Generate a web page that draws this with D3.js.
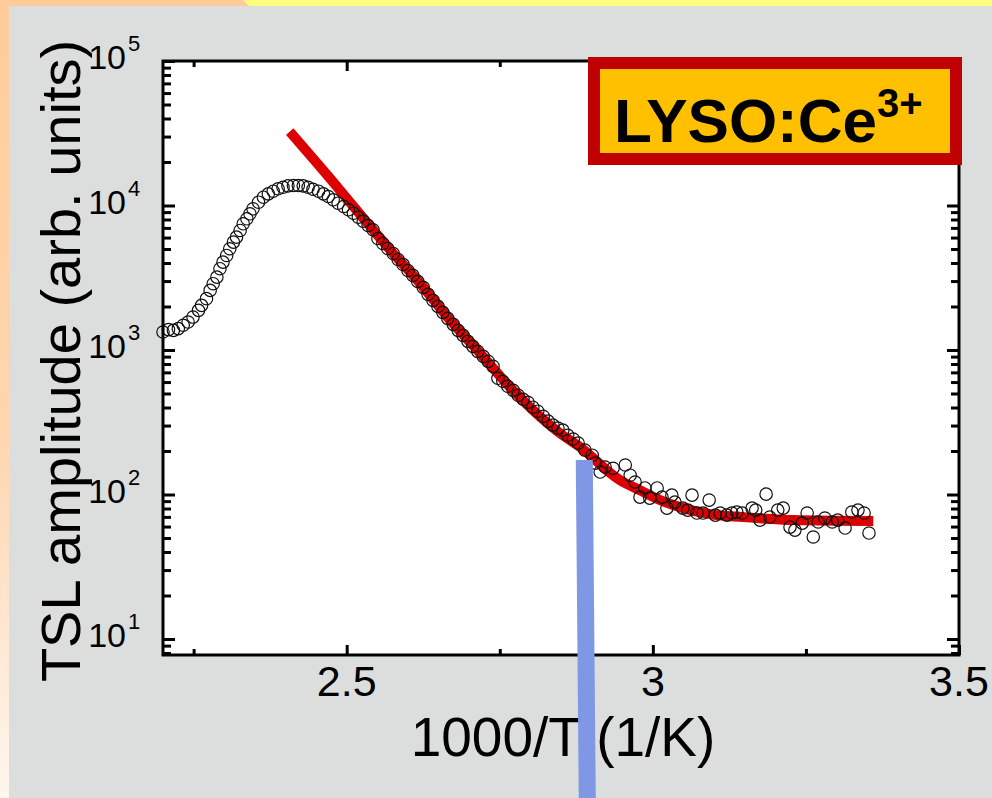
<!DOCTYPE html>
<html>
<head>
<meta charset="utf-8">
<script src="https://cdn.jsdelivr.net/npm/d3@7"></script>
<style>
  html, body { margin: 0; padding: 0; background: #dcdedd; }
  svg { display: block; font-family: "Liberation Sans", Arial, sans-serif; }
</style>
</head>
<body>
<svg id="chart" width="992" height="798"></svg>
<script>
// measured TSL points (1000/T, amplitude)
const invT = [
  2.200, 2.209, 2.217, 2.225, 2.233, 2.241, 2.249, 2.258, 2.263, 2.271, 2.277, 2.282, 2.288, 2.293, 2.298, 2.304,
  2.309, 2.315, 2.320, 2.326, 2.331, 2.337, 2.342, 2.347, 2.356, 2.364, 2.372, 2.380, 2.388, 2.396, 2.404, 2.413,
  2.421, 2.429, 2.437, 2.445, 2.454, 2.462, 2.470, 2.478, 2.486, 2.495, 2.503, 2.511, 2.519, 2.527, 2.535, 2.543,
  2.551, 2.559, 2.567, 2.576, 2.584, 2.592, 2.600, 2.608, 2.616, 2.625, 2.633, 2.641, 2.649, 2.657, 2.665, 2.674,
  2.682, 2.690, 2.698, 2.706, 2.714, 2.723, 2.731, 2.739, 2.747, 2.755, 2.763, 2.772, 2.780, 2.788, 2.796, 2.804,
  2.812, 2.821, 2.829, 2.837, 2.845, 2.853, 2.861, 2.870, 2.878,
  2.889, 2.901, 2.906, 2.914, 2.922, 2.935, 2.955, 2.963, 2.971, 2.979, 2.987, 2.995, 3.007, 3.015, 3.023, 3.031,
  3.036, 3.049, 3.057, 3.064, 3.072, 3.082, 3.092, 3.102, 3.110, 3.121, 3.129, 3.137, 3.146, 3.162, 3.168, 3.175,
  3.185, 3.191, 3.204, 3.213, 3.224, 3.232, 3.244, 3.252, 3.262, 3.270, 3.281, 3.293, 3.302, 3.314, 3.325, 3.335,
  3.345, 3.353
];
const amplitude = [
  1331, 1384, 1368, 1406, 1483, 1561, 1690, 1881, 2037, 2266, 2585, 2876, 3195, 3652, 4057, 4512,
  5020, 5577, 6040, 6718, 7471, 8093, 8762, 9490, 10540, 11410, 12040, 12560, 13050, 13380, 13680, 13750,
  13750, 13680, 13380, 12960, 12560, 12040, 11540, 10950, 10370, 9840, 9340, 8845, 8300, 7790, 7273, 6792,
  5913, 5461, 5044, 4658, 4234, 3910, 3553, 3283, 2984, 2712, 2426, 2205, 2004, 1822, 1656, 1505,
  1368, 1263, 1148, 1060, 979, 904, 835, 771, 637, 608, 561, 526, 486, 456, 435, 402,
  377, 348, 322, 302, 288, 279, 257, 242, 227,
  203, 187, 165, 143, 155, 152, 160, 136, 122, 95.9, 111, 94.4, 111, 95.9, 80.5, 99.0,
  88.6, 80.5, 78.0, 99.0, 74.4, 74.4, 91.5, 72.0, 74.4, 72.0, 74.4, 75.6, 74.4, 80.5, 78.0, 66.5,
  100.6, 69.8, 78.0, 80.5, 59.5, 56.7, 63.4, 74.4, 50.8, 64.5, 68.7, 64.5, 66.5, 58.6, 75.6, 78.0,
  74.4, 54.1
];

// fitted curve
const fitInvT = [2.407, 2.473, 2.522, 2.576, 2.620, 2.669, 2.718, 2.767, 2.816, 2.848, 2.881, 2.946, 2.979, 3.012, 3.044, 3.093, 3.147, 3.229, 3.360];
const fitAmp = [32460, 15370, 8666, 4658, 2890, 1604, 949, 552, 345, 266, 213, 126, 107, 91.5, 81.8, 73.2, 69.8, 66.5, 65.5];

// vertical marker
const markerInvT = 2.888;
const markerAmp = 173;

const xMajor = [2.5, 3, 3.5];
const xMinor = [2.25, 2.75, 3.25];
const xTickLabels = ['2.5', '3', '3.5'];
const yExponents = [1, 2, 3, 4, 5];
const xTitle = '1000/T (1/K)';
const yTitle = 'TSL amplitude (arb. units)';
const sampleName = 'LYSO:Ce';
const sampleCharge = '3+';

const W = 992, H = 798;
const plot = { left: 163, right: 959, top: 61, bottom: 655 };

const svg = d3.select('#chart');

// slide background
svg.append('rect').attr('width', W).attr('height', H).attr('fill', '#dcdedd');
const defs = svg.append('defs');
const grad = defs.append('linearGradient').attr('id', 'edge').attr('x1', 0).attr('y1', 0).attr('x2', 0).attr('y2', 1);
grad.append('stop').attr('offset', 0).attr('stop-color', '#ffcc99');
grad.append('stop').attr('offset', 0.55).attr('stop-color', '#ffd6b0');
grad.append('stop').attr('offset', 1).attr('stop-color', '#fff6ee');
svg.append('rect').attr('x', 0).attr('y', 0).attr('width', 9).attr('height', H).attr('fill', 'url(#edge)');
svg.append('rect').attr('x', 0).attr('y', 0).attr('width', W).attr('height', 6).attr('fill', '#ffff80');
svg.append('path').attr('d', 'M0,0L243,0L249,6L0,6Z').attr('fill', '#ffcc99');

const x = d3.scaleLinear().domain([2.2, 3.5]).range([plot.left, plot.right]);
const y = d3.scaleLog().domain([7.75, 1e5]).range([plot.bottom, plot.top]);

svg.append('rect')
  .attr('x', plot.left).attr('y', plot.top)
  .attr('width', plot.right - plot.left).attr('height', plot.bottom - plot.top)
  .attr('fill', '#fff');

// ticks pointing inward on all four sides
const yMajor = yExponents.map(e => Math.pow(10, e));
const yMinor = y.ticks().filter(v => !yMajor.some(m => Math.abs(m - v) < 1e-9));
function ticks (axis, pos) {
  const g = svg.append('g').attr('transform', pos).call(axis.tickSizeOuter(0).tickFormat(''));
  g.select('.domain').remove();
  g.selectAll('line').attr('stroke', '#000').attr('stroke-width', 3);
}
ticks(d3.axisBottom(x).tickValues(xMajor).tickSize(-10), `translate(0,${plot.bottom})`);
ticks(d3.axisBottom(x).tickValues(xMinor).tickSize(-6), `translate(0,${plot.bottom})`);
ticks(d3.axisTop(x).tickValues(xMajor).tickSize(-10), `translate(0,${plot.top})`);
ticks(d3.axisTop(x).tickValues(xMinor).tickSize(-6), `translate(0,${plot.top})`);
ticks(d3.axisLeft(y).tickValues(yMajor).tickSize(-12), `translate(${plot.left},0)`);
ticks(d3.axisLeft(y).tickValues(yMinor).tickSize(-8), `translate(${plot.left},0)`);
ticks(d3.axisRight(y).tickValues(yMajor).tickSize(-12), `translate(${plot.right},0)`);
ticks(d3.axisRight(y).tickValues(yMinor).tickSize(-8), `translate(${plot.right},0)`);

// fit line
const line = d3.line().x(d => x(d[0])).y(d => y(d[1])).curve(d3.curveMonotoneX);
svg.append('path')
  .datum(fitInvT.map((v, i) => [v, fitAmp[i]]))
  .attr('d', line)
  .attr('fill', 'none')
  .attr('stroke', '#dc0000')
  .attr('stroke-width', 10)
  .attr('stroke-linecap', 'butt');

// data circles
svg.append('g').selectAll('circle')
  .data(invT.map((v, i) => [v, amplitude[i]]))
  .join('circle')
  .attr('cx', d => x(d[0]))
  .attr('cy', d => y(d[1]))
  .attr('r', 6.2)
  .attr('fill', 'none')
  .attr('stroke', '#111')
  .attr('stroke-width', 1.2);

// frame
svg.append('rect')
  .attr('x', plot.left).attr('y', plot.top)
  .attr('width', plot.right - plot.left).attr('height', plot.bottom - plot.top)
  .attr('fill', 'none').attr('stroke', '#000').attr('stroke-width', 3);

// x tick labels
svg.append('g').selectAll('text')
  .data(xMajor)
  .join('text')
  .attr('x', d => x(d))
  .attr('y', 696)
  .attr('text-anchor', 'middle')
  .attr('font-size', 43)
  .text((d, i) => xTickLabels[i]);

// y tick labels 10^n
const yl = svg.append('g').selectAll('g')
  .data(yExponents)
  .join('g')
  .attr('transform', d => `translate(0,${y(Math.pow(10, d))})`);
yl.append('text').attr('x', 126).attr('y', 8).attr('text-anchor', 'end').attr('font-size', 34).text('10');
yl.append('text').attr('x', 128).attr('y', -10).attr('font-size', 22).text(d => d);

// axis titles
svg.append('text')
  .attr('x', 563).attr('y', 756)
  .attr('text-anchor', 'middle')
  .attr('font-size', 55)
  .text(xTitle);
svg.append('text')
  .attr('transform', 'translate(80,361) rotate(-90)')
  .attr('text-anchor', 'middle')
  .attr('font-size', 56)
  .text(yTitle);

// sample label box
svg.append('rect')
  .attr('x', 594).attr('y', 63).attr('width', 362).attr('height', 96)
  .attr('fill', '#ffc000').attr('stroke', '#c00000').attr('stroke-width', 12);
const lab = svg.append('text')
  .attr('x', 614).attr('y', 142)
  .attr('font-weight', 'bold')
  .attr('font-size', 62)
  .attr('fill', '#000');
lab.append('tspan').text(sampleName);
lab.append('tspan').attr('dy', -25).attr('font-size', 40).text(sampleCharge);

// blue marker bar
const mx = x(markerInvT), my = y(markerAmp);
svg.append('path')
  .attr('d', `M${mx - 8.5},${my}L${mx + 8.5},${my}L${mx + 11.5},${H}L${mx - 5.5},${H}Z`)
  .attr('fill', '#7f97e5');
</script>
</body>
</html>
